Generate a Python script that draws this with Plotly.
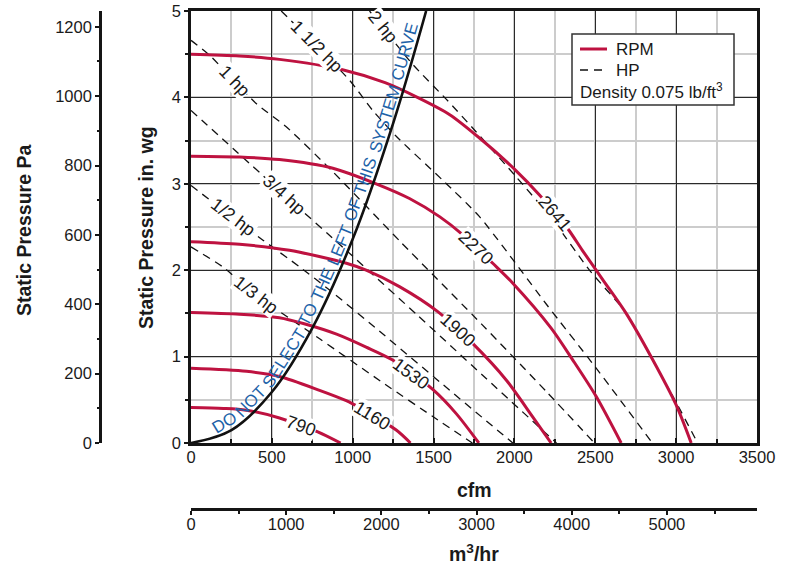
import math
import numpy as np
import plotly.graph_objects as go

# ---------------- data ----------------
# RPM curves: cfm vs static pressure (in. wg)
rpm_790_cfm = [0, 200, 341, 547, 784, 925]
rpm_790_wg = [0.41, 0.40, 0.38, 0.29, 0.13, 0.0]
rpm_1160_cfm = [0, 343, 547, 795, 960, 1042, 1269, 1357]
rpm_1160_wg = [0.865, 0.83, 0.77, 0.61, 0.49, 0.41, 0.15, 0.0]
rpm_1530_cfm = [0, 300, 547, 700, 900, 1083, 1247, 1495, 1640, 1780]
rpm_1530_wg = [1.51, 1.49, 1.45, 1.38, 1.26, 1.11, 0.96, 0.62, 0.34, 0.0]
rpm_1900_cfm = [0, 300, 609, 961, 1083, 1289, 1526, 1743, 1949, 2114, 2227]
rpm_1900_wg = [2.33, 2.30, 2.23, 2.08, 2.00, 1.81, 1.52, 1.15, 0.73, 0.30, 0.0]
rpm_2270_cfm = [0, 300, 547, 877, 1145, 1351, 1537, 1681, 1866, 1990, 2227, 2361, 2505, 2660]
rpm_2270_wg = [3.32, 3.31, 3.28, 3.18, 3.00, 2.83, 2.62, 2.41, 2.08, 1.85, 1.33, 0.96, 0.54, 0.0]
rpm_2641_cfm = [0, 300, 547, 937, 1200, 1400, 1600, 1784, 2000, 2155, 2330, 2420, 2550, 2691, 2856, 3000, 3093]
rpm_2641_wg = [4.50, 4.48, 4.44, 4.32, 4.17, 4.00, 3.80, 3.53, 3.17, 2.87, 2.48, 2.23, 1.88, 1.50, 0.96, 0.44, 0.0]
rpm_names = ["790", "1160", "1530", "1900", "2270", "2641"]
rpm_label_cfm = [683, 1124, 1362, 1650, 1764, 2248]

# HP lines (dashed)
hp_1_3_cfm = [0, 195, 405, 800, 1200, 1500, 1740]
hp_1_3_wg = [2.27, 2.04, 1.71, 1.20, 0.68, 0.30, 0.0]
hp_1_2_cfm = [0, 443, 671, 857, 1200, 1600, 1990]
hp_1_2_wg = [2.98, 2.35, 2.04, 1.77, 1.24, 0.61, 0.0]
hp_3_4_cfm = [0, 578, 960, 1400, 1800, 2260]
hp_3_4_wg = [3.85, 2.87, 2.23, 1.48, 0.79, 0.0]
hp_1_cfm = [0, 114, 403, 589, 877, 1300, 1800, 2200, 2495]
hp_1_wg = [4.66, 4.49, 3.93, 3.66, 3.14, 2.32, 1.37, 0.59, 0.0]
hp_1_5_cfm = [558, 980, 1123, 1269, 1557, 1784, 2200, 2500, 2853]
hp_1_5_wg = [5.0, 4.20, 3.85, 3.55, 3.04, 2.62, 1.60, 0.88, 0.0]
hp_2_cfm = [1104, 1372, 1578, 1764, 2011, 2238, 2464, 2693, 2854, 3003, 3133]
hp_2_wg = [5.0, 4.38, 3.98, 3.60, 3.08, 2.58, 2.00, 1.50, 0.96, 0.46, 0.0]
hp_names = ["1/3 hp", "1/2 hp", "3/4 hp", "1 hp", "1 1/2 hp", "2 hp"]
hp_label_cfm = [403, 258, 578, 269, 774, 1186]

# System curve
sys_cfm = [0, 250, 500, 750, 1000, 1250, 1454]
sys_wg = [0.0, 0.15, 0.59, 1.33, 2.36, 3.70, 5.0]
sys_text = "DO NOT SELECT TO THE LEFT OF THIS SYSTEM CURVE"

# Axes
cfm_ticks = [0, 500, 1000, 1500, 2000, 2500, 3000, 3500]
wg_ticks = [0, 1, 2, 3, 4, 5]
pa_ticks = [0, 200, 400, 600, 800, 1000, 1200]
m3h_ticks = [0, 1000, 2000, 3000, 4000, 5000]
CFM_MAX, WG_MAX = 3500, 5
PA_PER_INWG = 249.0889
M3H_PER_CFM = 1.699011

# ---------------- layout geometry ----------------
W, H = 788, 569
XL, XR = 191, 757      # plot area px (left/right)
YT, YB = 11, 443       # plot area px (top/bottom)
SX = (XR - XL) / CFM_MAX
SY = (YB - YT) / WG_MAX

RED = "#BE1240"
BLUE = "#1D62A8"
FONT = "Liberation Sans, Arial, Helvetica, sans-serif"
TXT = "#1a1a1a"

fig = go.Figure()

rpm_series = [(rpm_790_cfm, rpm_790_wg), (rpm_1160_cfm, rpm_1160_wg), (rpm_1530_cfm, rpm_1530_wg),
              (rpm_1900_cfm, rpm_1900_wg), (rpm_2270_cfm, rpm_2270_wg), (rpm_2641_cfm, rpm_2641_wg)]
hp_series = [(hp_1_3_cfm, hp_1_3_wg), (hp_1_2_cfm, hp_1_2_wg), (hp_3_4_cfm, hp_3_4_wg),
             (hp_1_cfm, hp_1_wg), (hp_1_5_cfm, hp_1_5_wg), (hp_2_cfm, hp_2_wg)]

for name, (q, p) in zip(hp_names, hp_series):
    fig.add_trace(go.Scatter(x=q, y=p, mode="lines", name=name, showlegend=False,
                             line=dict(color="#111111", width=1.3, dash="8px,6px", shape="spline", smoothing=0.6),
                             hoverinfo="skip"))
for name, (q, p) in zip(rpm_names, rpm_series):
    fig.add_trace(go.Scatter(x=q, y=p, mode="lines", name=name + " RPM", showlegend=False,
                             line=dict(color=RED, width=3, shape="spline", smoothing=0.8),
                             hoverinfo="skip"))
fig.add_trace(go.Scatter(x=sys_cfm, y=sys_wg, mode="lines", showlegend=False, name="System curve",
                         line=dict(color="#111111", width=2.6, shape="spline", smoothing=1.0),
                         hoverinfo="skip"))
# anchor traces for secondary axes
fig.add_trace(go.Scatter(x=[0], y=[0], xaxis="x2", yaxis="y", mode="markers",
                         marker=dict(opacity=0), showlegend=False, hoverinfo="skip"))
fig.add_trace(go.Scatter(x=[0], y=[0], xaxis="x", yaxis="y2", mode="markers",
                         marker=dict(opacity=0), showlegend=False, hoverinfo="skip"))

annotations = []


def curve_label(text, q_lab, q, p, size=18):
    p_lab = float(np.interp(q_lab, q, p))
    dq = 60
    p1 = float(np.interp(q_lab - dq, q, p))
    p2 = float(np.interp(q_lab + dq, q, p))
    ang = math.degrees(math.atan2(-(p2 - p1) * SY, 2 * dq * SX))
    annotations.append(dict(x=q_lab, y=p_lab, xref="x", yref="y", text=text, showarrow=False,
                            textangle=ang, font=dict(family=FONT, size=size, color=TXT),
                            bgcolor="white", borderpad=0))


for name, ql, (q, p) in zip(rpm_names, rpm_label_cfm, rpm_series):
    curve_label(name, ql, q, p)
for name, ql, (q, p) in zip(hp_names, hp_label_cfm, hp_series):
    curve_label(name, ql, q, p)

# ---- blue text along the system curve (placed word by word) ----
coef = np.polyfit(sys_cfm, sys_wg, 2)
qq = np.linspace(0, sys_cfm[-1], 800)
pp = np.polyval(coef, qq)
xs = XL + qq * SX
ys = YB - pp * SY
seg = np.hypot(np.diff(xs), np.diff(ys))
s = np.concatenate([[0], np.cumsum(seg)])
ch_w = dict(D=.722, O=.778, N=.722, T=.611, S=.667, E=.667, L=.556, C=.722, H=.722,
            F=.611, I=.278, Y=.667, M=.833, U=.722, R=.722, V=.667)
fs_blue = 17
words = sys_text.split(" ")
wlen = [sum(ch_w.get(c, .67) for c in w) * fs_blue for w in words]
sp = 0.278 * fs_blue
total = sum(wlen) + sp * (len(words) - 1)
s0 = float(np.interp(170, qq, s))
s1 = float(np.interp(1430, qq, s))
scale = (s1 - s0) / total
cur = s0
for w, wl in zip(words, wlen):
    sc = cur + scale * wl / 2
    cur += scale * (wl + sp)
    x = float(np.interp(sc, s, xs))
    y = float(np.interp(sc, s, ys))
    xa = float(np.interp(sc - 3, s, xs)); xb = float(np.interp(sc + 3, s, xs))
    ya = float(np.interp(sc - 3, s, ys)); yb = float(np.interp(sc + 3, s, ys))
    tx, ty = xb - xa, yb - ya
    n = math.hypot(tx, ty)
    tx, ty = tx / n, ty / n
    off = 9.5
    nx, ny = ty, -tx
    x += nx * off
    y += ny * off
    ang = math.degrees(math.atan2(ty, tx))
    annotations.append(dict(x=(x - XL) / SX, y=(YB - y) / SY, xref="x", yref="y", text=w,
                            showarrow=False, textangle=ang,
                            font=dict(family=FONT, size=fs_blue, color=BLUE)))

# ---- axis titles ----
title_font = dict(family=FONT, size=19.5, color=TXT, weight="bold")


def paper_text(px, py, text, font, angle=0, xanchor="center"):
    return dict(x=px / W, y=1 - py / H, xref="paper", yref="paper", text=text, textangle=angle,
                showarrow=False, font=font, xanchor=xanchor, yanchor="middle")


annotations += [
    paper_text(24, 231, "Static Pressure Pa", title_font, -90),
    paper_text(146, 228, "Static Pressure in. wg", title_font, -90),
    paper_text(474, 490, "cfm", title_font),
    paper_text(474, 553, "m<sup>3</sup>/hr", title_font),
]

# ---- legend box (manual) ----
leg_font = dict(family=FONT, size=17, color=TXT)
shapes = [
    dict(type="rect", xref="paper", yref="paper", x0=572 / W, x1=734 / W, y0=1 - 105 / H, y1=1 - 34 / H,
         line=dict(color="#333333", width=1.5), fillcolor="white", layer="above"),
    dict(type="line", xref="paper", yref="paper", x0=580 / W, x1=607 / W, y0=1 - 49 / H, y1=1 - 49 / H,
         line=dict(color=RED, width=3), layer="above"),
    dict(type="line", xref="paper", yref="paper", x0=580 / W, x1=604 / W, y0=1 - 70 / H, y1=1 - 70 / H,
         line=dict(color="#111111", width=1.3, dash="8px,6px"), layer="above"),
]
annotations += [
    paper_text(614, 49, "RPM", leg_font, xanchor="left"),
    paper_text(614, 70, "HP", leg_font, xanchor="left"),
    paper_text(578, 91, "Density 0.075 lb/ft<sup>3</sup>", leg_font, xanchor="left"),
]

tick_font = dict(family=FONT, size=16.5, color=TXT)
dom_x = [XL / W, XR / W]
dom_y = [1 - YB / H, 1 - YT / H]

fig.update_layout(
    width=W, height=H, margin=dict(l=0, r=0, t=0, b=0),
    paper_bgcolor="white", plot_bgcolor="white", showlegend=False,
    font=dict(family=FONT, color=TXT),
    xaxis=dict(domain=dom_x, range=[0, CFM_MAX], tickvals=cfm_ticks, ticktext=[str(v) for v in cfm_ticks],
               showgrid=True, gridcolor="#2a2a2a", gridwidth=1.2, zeroline=False,
               showline=True, linecolor="#151515", linewidth=2.6, mirror=True,
               ticks="inside", ticklen=5, tickwidth=2, tickcolor="#151515",
               minor=dict(dtick=250, showgrid=True, gridcolor="#cccccc", gridwidth=2,
                          ticks="inside", ticklen=4, tickcolor="#151515"),
               tickfont=tick_font, automargin=False, anchor="y", ticklabelstandoff=-3),
    yaxis=dict(domain=dom_y, range=[0, WG_MAX], tickvals=wg_ticks, ticktext=[str(v) for v in wg_ticks],
               showgrid=True, gridcolor="#2a2a2a", gridwidth=1.2, zeroline=False,
               showline=True, linecolor="#151515", linewidth=2.6, mirror=True,
               ticks="outside", ticklen=4, tickwidth=2, tickcolor="#151515",
               minor=dict(dtick=0.5, showgrid=True, gridcolor="#cccccc", gridwidth=2,
                          ticks="outside", ticklen=3, tickcolor="#151515"),
               tickfont=tick_font, automargin=False, anchor="x"),
    xaxis2=dict(overlaying="x", anchor="free", position=(H - 509) / H, side="bottom",
                range=[0, CFM_MAX * M3H_PER_CFM], tickvals=m3h_ticks, ticktext=[str(v) for v in m3h_ticks],
                showgrid=False, zeroline=False, showline=True, linecolor="#151515", linewidth=2.6,
                ticks="outside", ticklen=4, tickwidth=2, tickcolor="#151515",
                minor=dict(dtick=500, ticks="outside", ticklen=3, tickcolor="#151515"),
                tickfont=tick_font, automargin=False, ticklabelstandoff=-5),
    yaxis2=dict(overlaying="y", anchor="free", position=100 / W, side="left",
                range=[0, WG_MAX * PA_PER_INWG], tickvals=pa_ticks, ticktext=[str(v) for v in pa_ticks],
                showgrid=False, zeroline=False, showline=True, linecolor="#151515", linewidth=2.6,
                ticks="outside", ticklen=4, tickwidth=2, tickcolor="#151515",
                minor=dict(dtick=100, ticks="outside", ticklen=2, tickcolor="#151515"),
                tickfont=tick_font, automargin=False),
    annotations=annotations, shapes=shapes,
)

fig.write_html("out.html", config={"displayModeBar": False},
               post_script="document.body.style.margin='0';document.body.style.overflow='hidden';")
